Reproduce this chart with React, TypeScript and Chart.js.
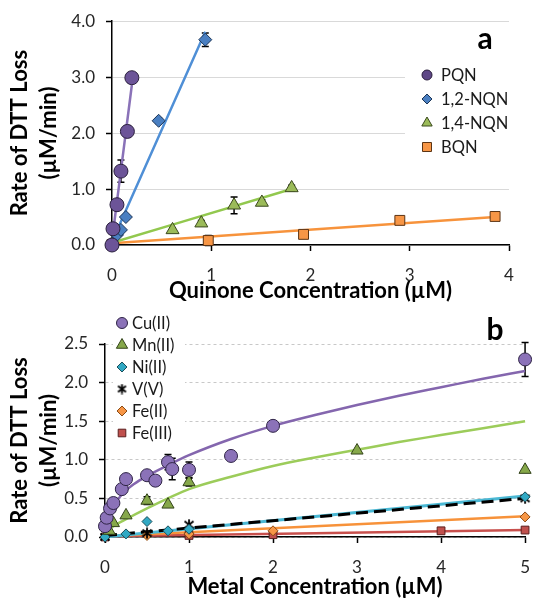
import React, { useEffect, useRef } from "react";
import { Chart, registerables } from "chart.js";

Chart.register(...registerables);

const FONT = "Lato, 'Open Sans', 'DejaVu Sans', sans-serif";

// ---------- Panel a: quinones ----------
const quinoneTicks = [0, 1, 2, 3, 4];
const rateTicksA = [0, 1, 2, 3, 4];

const pqnConc = [0, 0.01, 0.05, 0.09, 0.155, 0.2];
const pqnRate = [0, 0.29, 0.72, 1.32, 2.03, 2.99];
const pqnErr = [0, 0, 0.05, 0.2, 0.1, 0.02];
const pqnFitConc = [0, 0.2];
const pqnFitRate = [0.08, 2.86];

const nqn12Conc = [0, 0.05, 0.09, 0.14, 0.47, 0.94];
const nqn12Rate = [0.02, 0.18, 0.27, 0.5, 2.22, 3.67];
const nqn12Err = [0, 0, 0, 0.04, 0.05, 0.12];
const nqn12FitConc = [0, 0.94];
const nqn12FitRate = [0.06, 3.81];

const nqn14Conc = [0, 0.61, 0.9, 1.23, 1.51, 1.81];
const nqn14Rate = [0.02, 0.27, 0.39, 0.71, 0.76, 1.02];
const nqn14Err = [0, 0.04, 0.05, 0.15, 0.05, 0.05];
const nqn14FitConc = [0, 1.81];
const nqn14FitRate = [0.04, 1.0];

const bqnConc = [0, 0.97, 1.93, 2.9, 3.86];
const bqnRate = [0.01, 0.08, 0.19, 0.44, 0.51];
const bqnErr = [0, 0.09, 0.03, 0.05, 0.03];
const bqnFitConc = [0, 3.86];
const bqnFitRate = [0.03, 0.5];

// ---------- Panel b: metals ----------
const metalTicks = [0, 1, 2, 3, 4, 5];
const rateTicksB = [0, 0.5, 1, 1.5, 2, 2.5];

const cuConc = [0, 0.02, 0.06, 0.1, 0.2, 0.25, 0.5, 0.6, 0.75, 0.8, 1.0, 1.5, 2, 5];
const cuRate = [0.14, 0.25, 0.37, 0.44, 0.62, 0.75, 0.8, 0.73, 0.97, 0.88, 0.87, 1.05, 1.44, 2.3];
const cuErr = [0, 0, 0, 0.05, 0, 0, 0.05, 0, 0.1, 0.14, 0.1, 0, 0, 0.22];
const cuFitConc = [0, 0.02, 0.05, 0.1, 0.2, 0.35, 0.5, 0.75, 1, 1.5, 2, 2.5, 3, 3.5, 4, 4.5, 5];
const cuFitRate = [0.1, 0.2, 0.29, 0.4, 0.55, 0.69, 0.79, 0.93, 1.06, 1.27, 1.44, 1.58, 1.71, 1.83, 1.94, 2.05, 2.15];

const mnConc = [0.05, 0.1, 0.25, 0.5, 0.75, 1, 3, 5];
const mnRate = [0.08, 0.18, 0.28, 0.47, 0.42, 0.71, 1.12, 0.87];
const mnErr = [0, 0, 0, 0.05, 0, 0.05, 0, 0];
const mnFitConc = [0, 0.05, 0.1, 0.25, 0.5, 0.75, 1, 1.5, 2, 2.5, 3, 3.5, 4, 4.5, 5];
const mnFitRate = [0.06, 0.1, 0.14, 0.23, 0.37, 0.5, 0.62, 0.78, 0.92, 1.03, 1.13, 1.23, 1.32, 1.41, 1.5];

const niConc = [0, 0.25, 0.5, 0.75, 1, 5];
const niRate = [0, 0.04, 0.2, 0.08, 0.1, 0.52];
const niFitConc = [0, 5];
const niFitRate = [0, 0.53];

const vConc = [0, 0.5, 1, 5];
const vRate = [0, 0.05, 0.16, 0.5];
const vFitConc = [0, 5];
const vFitRate = [0.02, 0.5];

const fe2Conc = [0, 0.5, 1, 2, 5];
const fe2Rate = [0, 0.02, 0.04, 0.08, 0.26];
const fe2FitConc = [0, 5];
const fe2FitRate = [0.01, 0.27];

const fe3Conc = [0, 1, 2, 4, 5];
const fe3Rate = [0, 0.02, 0.03, 0.08, 0.09];
const fe3FitConc = [0, 5];
const fe3FitRate = [0.01, 0.09];

// ---------- helpers ----------
const zip = (xs: number[], ys: number[]) => xs.map((x, i) => ({ x, y: ys[i] }));

function makeAsterisk(size: number, lw: number) {
  const c = document.createElement("canvas");
  c.width = size;
  c.height = size;
  const g = c.getContext("2d")!;
  const m = 1.5;
  g.strokeStyle = "#000";
  g.lineWidth = lw;
  g.lineCap = "butt";
  g.beginPath();
  g.moveTo(m, m + 1);
  g.lineTo(size - m, size - m - 1);
  g.moveTo(size - m, m + 1);
  g.lineTo(m, size - m - 1);
  g.moveTo(size / 2, 0.5);
  g.lineTo(size / 2, size - 0.5);
  g.stroke();
  return c;
}

function drawMarker(ctx: CanvasRenderingContext2D, style: any, x: number, y: number, r: number, fill: string, stroke: string) {
  ctx.save();
  if (typeof style !== "string") {
    ctx.drawImage(style, x - style.width / 2, y - style.height / 2);
    ctx.restore();
    return;
  }
  ctx.fillStyle = fill;
  ctx.strokeStyle = stroke;
  ctx.lineWidth = 1;
  ctx.beginPath();
  if (style === "circle") {
    ctx.arc(x, y, r, 0, Math.PI * 2);
  } else if (style === "rectRot") {
    ctx.moveTo(x, y - r);
    ctx.lineTo(x + r, y);
    ctx.lineTo(x, y + r);
    ctx.lineTo(x - r, y);
    ctx.closePath();
  } else if (style === "triangle") {
    ctx.moveTo(x, y - r);
    ctx.lineTo(x + r * 0.866, y + r * 0.5);
    ctx.lineTo(x - r * 0.866, y + r * 0.5);
    ctx.closePath();
  } else {
    ctx.rect(x - r, y - r, 2 * r, 2 * r);
  }
  ctx.fill();
  ctx.stroke();
  ctx.restore();
}

const errorBarPlugin = {
  id: "errorBars",
  beforeDatasetsDraw(chart: any) {
    const ctx = chart.ctx;
    const xs = chart.scales.x;
    const ys = chart.scales.y;
    chart.data.datasets.forEach((ds: any) => {
      if (!ds.errors) return;
      ds.data.forEach((p: any, i: number) => {
        const e = ds.errors[i];
        if (!e) return;
        const px = xs.getPixelForValue(p.x);
        const y1 = ys.getPixelForValue(p.y + e);
        const y2 = ys.getPixelForValue(p.y - e);
        ctx.save();
        ctx.strokeStyle = "#000";
        ctx.lineWidth = 1.5;
        ctx.beginPath();
        ctx.moveTo(px, y1);
        ctx.lineTo(px, y2);
        ctx.moveTo(px - 3.5, y1);
        ctx.lineTo(px + 3.5, y1);
        ctx.moveTo(px - 3.5, y2);
        ctx.lineTo(px + 3.5, y2);
        ctx.stroke();
        ctx.restore();
      });
    });
  },
};

type LegendItem = { label: string; style: any; r: number; fill: string; stroke: string };

function boxLegend(
  items: LegendItem[],
  box: { x: number; y: number; w: number; h: number },
  markerX: number,
  textX: number,
  firstY: number,
  rowH: number,
  letter: { text: string; x: number; y: number }
) {
  return {
    id: "boxLegend",
    afterDraw(chart: any) {
      const ctx: CanvasRenderingContext2D = chart.ctx;
      ctx.save();
      ctx.fillStyle = "#fff";
      ctx.fillRect(box.x, box.y, box.w, box.h);
      items.forEach((it, i) => {
        const y = firstY + i * rowH;
        drawMarker(ctx, it.style, markerX, y, it.r, it.fill, it.stroke);
        ctx.fillStyle = "#1a1a1a";
        ctx.font = `16.5px ${FONT}`;
        ctx.textAlign = "left";
        ctx.textBaseline = "middle";
        ctx.fillText(it.label, textX, y + 1);
      });
      ctx.fillStyle = "#000";
      ctx.font = `bold 30px ${FONT}`;
      ctx.textAlign = "center";
      ctx.textBaseline = "middle";
      ctx.fillText(letter.text, letter.x, letter.y);
      ctx.restore();
    },
  };
}

function pointSet(label: string, xs: number[], ys: number[], errs: number[] | null, style: any, r: number, fill: string, stroke: string) {
  return {
    label,
    data: zip(xs, ys),
    errors: errs,
    pointStyle: style,
    pointRadius: r,
    pointBackgroundColor: fill,
    pointBorderColor: stroke,
    pointBorderWidth: 1,
    backgroundColor: fill,
    borderColor: stroke,
    showLine: false,
    clip: false,
    order: 0,
  };
}

function fitSet(label: string, xs: number[], ys: number[], color: string, dash: number[] = [], width = 2.5) {
  return {
    label,
    data: zip(xs, ys),
    showLine: true,
    borderColor: color,
    backgroundColor: color,
    borderWidth: width,
    borderDash: dash,
    pointRadius: 0,
    cubicInterpolationMode: "monotone",
    clip: false,
    order: 1,
  };
}

function xScale(max: number, ticks: number[], title: string, height: number, titlePad: number) {
  return {
    type: "linear",
    min: 0,
    max,
    afterBuildTicks: (s: any) => {
      s.ticks = ticks.map((v) => ({ value: v }));
    },
    ticks: { font: { size: 17, family: FONT }, color: "#262626", padding: 14, maxRotation: 0, autoSkip: false },
    grid: { drawOnChartArea: false, drawTicks: true, tickLength: 6, tickColor: "#000", tickWidth: 1.5 },
    border: { color: "#000", width: 1.5 },
    title: {
      display: true,
      text: title,
      color: "#000",
      font: { size: 22, weight: "bold", family: FONT, lineHeight: 1.0 },
      padding: { top: 0, bottom: titlePad },
    },
    afterFit: (s: any) => {
      s.height = height;
    },
  };
}

function yScale(max: number, ticks: number[], width: number, gridColor: string, dash: number[]) {
  return {
    type: "linear",
    min: 0,
    max,
    afterBuildTicks: (s: any) => {
      s.ticks = ticks.map((v) => ({ value: v }));
    },
    ticks: {
      font: { size: 17, family: FONT },
      color: "#262626",
      padding: 11,
      callback: (v: any) => Number(v).toFixed(1),
    },
    grid: { color: gridColor, lineWidth: 1, drawTicks: true, tickLength: 6, tickColor: "#000", tickWidth: 1.5 },
    border: { color: "#000", width: 1.5, dash },
    title: {
      display: true,
      text: ["Rate of DTT Loss", "(\u00b5M/min)"],
      color: "#000",
      font: { size: 22, weight: "bold", family: FONT, lineHeight: 1.3 },
      padding: { top: 6, bottom: 0 },
    },
    afterFit: (s: any) => {
      s.width = width;
    },
  };
}

export default function App() {
  const refA = useRef<HTMLCanvasElement>(null);
  const refB = useRef<HTMLCanvasElement>(null);

  useEffect(() => {
    Chart.defaults.font.family = FONT;
    const star = makeAsterisk(12, 1.8);
    const starSmall = makeAsterisk(11, 1.8);

    // colours
    const pqn = { fill: "#6c5498", stroke: "#2a1f3d", line: "#8a72b8" };
    const n12 = { fill: "#4a7fc1", stroke: "#1c3556", line: "#4f8fd6" };
    const n14 = { fill: "#9bbb59", stroke: "#3b4a1e", line: "#92c84e" };
    const bq = { fill: "#f79646", stroke: "#5c3414", line: "#f7933c" };

    const cu = { fill: "#8b72b8", stroke: "#2f2446", line: "#8466ae" };
    const mn = { fill: "#86a84a", stroke: "#33431a", line: "#9ccc5a" };
    const ni = { fill: "#31a9c4", stroke: "#1a4e5a", line: "#4bb8d4" };
    const fe2 = { fill: "#f79646", stroke: "#8a4a14", line: "#f7923a" };
    const fe3 = { fill: "#c0504d", stroke: "#5a1f1e", line: "#c8504d" };

    const chartA = new Chart(refA.current!, {
      type: "scatter",
      data: {
        datasets: [
          fitSet("PQN fit", pqnFitConc, pqnFitRate, pqn.line),
          fitSet("1,2-NQN fit", nqn12FitConc, nqn12FitRate, n12.line),
          fitSet("1,4-NQN fit", nqn14FitConc, nqn14FitRate, n14.line),
          fitSet("BQN fit", bqnFitConc, bqnFitRate, bq.line),
          pointSet("PQN", pqnConc, pqnRate, pqnErr, "circle", 7, pqn.fill, pqn.stroke),
          pointSet("1,2-NQN", nqn12Conc, nqn12Rate, nqn12Err, "rectRot", 6.5, n12.fill, n12.stroke),
          pointSet("1,4-NQN", nqn14Conc, nqn14Rate, nqn14Err, "triangle", 7.5, n14.fill, n14.stroke),
          pointSet("BQN", bqnConc, bqnRate, bqnErr, "rect", 7, bq.fill, bq.stroke),
        ] as any,
      },
      options: {
        responsive: false,
        animation: false,
        devicePixelRatio: 1,
        events: [],
        layout: { padding: { left: 0, right: 35, top: 14, bottom: 0 } },
        plugins: { legend: { display: false }, tooltip: { enabled: false } },
        scales: {
          x: xScale(4, quinoneTicks, "Quinone Concentration (\u00b5M)", 57, 0),
          y: yScale(4, rateTicksA, 112, "#d9d9d9", []),
        } as any,
      },
      plugins: [
        errorBarPlugin,
        boxLegend(
          [
            { label: "PQN", style: "circle", r: 5, fill: "#5e4786", stroke: "#2a1f3d" },
            { label: "1,2-NQN", style: "rectRot", r: 5, fill: n12.fill, stroke: n12.stroke },
            { label: "1,4-NQN", style: "triangle", r: 6, fill: n14.fill, stroke: n14.stroke },
            { label: "BQN", style: "rect", r: 4.5, fill: bq.fill, stroke: bq.stroke },
          ],
          { x: 405, y: 62, w: 105, h: 98 },
          427,
          441,
          75,
          24,
          { text: "a", x: 485, y: 39 }
        ),
      ] as any,
    } as any);

    const chartB = new Chart(refB.current!, {
      type: "scatter",
      data: {
        datasets: [
          fitSet("Cu fit", cuFitConc, cuFitRate, cu.line),
          fitSet("Mn fit", mnFitConc, mnFitRate, mn.line),
          fitSet("Ni fit", niFitConc, niFitRate, ni.line, [], 3),
          fitSet("Fe(II) fit", fe2FitConc, fe2FitRate, fe2.line),
          fitSet("Fe(III) fit", fe3FitConc, fe3FitRate, fe3.line),
          pointSet("Cu(II)", cuConc, cuRate, cuErr, "circle", 6.5, cu.fill, cu.stroke),
          pointSet("Mn(II)", mnConc, mnRate, mnErr, "triangle", 7, mn.fill, mn.stroke),
          pointSet("Ni(II)", niConc, niRate, null, "rectRot", 5, ni.fill, ni.stroke),
          pointSet("V(V)", vConc, vRate, null, star, 5, "#000", "#000"),
          pointSet("Fe(II)", fe2Conc, fe2Rate, null, "rectRot", 5, fe2.fill, fe2.stroke),
          pointSet("Fe(III)", fe3Conc, fe3Rate, null, "rect", 5.5, fe3.fill, fe3.stroke),
          { ...fitSet("V fit", vFitConc, vFitRate, "#000", [12, 6], 3), order: 0.5 },
        ] as any,
      },
      options: {
        responsive: false,
        animation: false,
        devicePixelRatio: 1,
        events: [],
        layout: { padding: { left: 0, right: 13, top: 44, bottom: 0 } },
        plugins: { legend: { display: false }, tooltip: { enabled: false } },
        scales: {
          x: xScale(5, metalTicks, "Metal Concentration (\u00b5M)", 64, 3),
          y: yScale(2.5, rateTicksB, 105, "#c8c8c8", [3, 3]),
        } as any,
      },
      plugins: [
        errorBarPlugin,
        boxLegend(
          [
            { label: "Cu(II)", style: "circle", r: 5.5, fill: cu.fill, stroke: cu.stroke },
            { label: "Mn(II)", style: "triangle", r: 6.5, fill: mn.fill, stroke: mn.stroke },
            { label: "Ni(II)", style: "rectRot", r: 5, fill: ni.fill, stroke: ni.stroke },
            { label: "V(V)", style: starSmall, r: 5, fill: "#000", stroke: "#000" },
            { label: "Fe(II)", style: "rectRot", r: 5, fill: fe2.fill, stroke: fe2.stroke },
            { label: "Fe(III)", style: "rect", r: 3.8, fill: fe3.fill, stroke: fe3.stroke },
          ],
          { x: 113, y: 12, w: 72, h: 132 },
          122,
          132,
          23,
          22,
          { text: "b", x: 495, y: 30 }
        ),
      ] as any,
    } as any);

    return () => {
      chartA.destroy();
      chartB.destroy();
    };
  }, []);

  return (
    <div style={{ position: "absolute", left: 0, top: 0, width: 544, height: 601, background: "#fff" }}>
      <canvas ref={refA} width={544} height={302} style={{ position: "absolute", left: 0, top: 0 }} />
      <canvas ref={refB} width={544} height={301} style={{ position: "absolute", left: 0, top: 300 }} />
    </div>
  );
}
